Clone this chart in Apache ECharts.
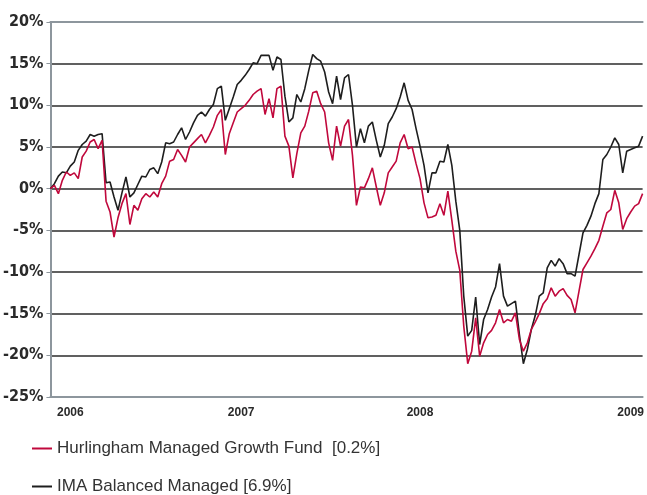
<!DOCTYPE html>
<html>
<head>
<meta charset="utf-8">
<script src="https://cdn.jsdelivr.net/npm/echarts@6/dist/echarts.min.js"></script>
<style>
html,body{margin:0;padding:0;background:#fff;}
#chart{width:647px;height:495px;}
</style>
</head>
<body>
<div id="chart"></div>
<script>
// fund performance, weekly-ish readings, % since start
var imaBalanced = [
    0, 0.6, 1.5, 2.0, 1.9, 2.7, 3.2, 4.6, 5.3, 5.7,
    6.5, 6.3, 6.5, 6.6, 0.7, 0.8, -1.0, -2.6, -0.5, 1.4,
    -1.0, -0.5, 0.5, 1.5, 1.4, 2.3, 2.5, 1.8, 3.2, 5.5,
    5.4, 5.6, 6.5, 7.3, 5.9, 6.8, 7.9, 8.8, 9.2, 8.7,
    9.5, 10.1, 12.0, 12.3, 8.2, 9.6, 11.0, 12.5, 13.0, 13.6,
    14.3, 15.1, 15.0, 16.0, 16.0, 16.0, 14.2, 15.8, 15.5, 11.1,
    8.0, 8.5, 11.3, 10.4, 12.0, 14.2, 16.1, 15.6, 15.3, 14.0,
    11.6, 10.2, 13.5, 10.7, 13.3, 13.7, 10.0, 5.0, 7.2, 5.5,
    7.5, 8.0, 5.8, 3.8, 5.2, 7.8, 8.6, 9.6, 11.0, 12.7,
    10.6, 9.5, 7.2, 5.1, 2.8, -0.5, 1.9, 1.9, 3.3, 3.2,
    5.3, 2.8, -1.5, -5.0, -12.9, -17.7, -17.0, -13.0, -18.7, -15.7,
    -14.5, -13.0, -11.8, -9.0, -12.9, -14.1, -13.8, -13.5, -17.5, -21.0,
    -19.3, -16.9, -15.2, -12.9, -12.5, -9.5, -8.6, -9.3, -8.4, -9.0,
    -10.2, -10.2, -10.5, -7.9, -5.3, -4.4, -3.3, -1.8, -0.6, 3.5,
    4.1, 5.0, 6.1, 5.3, 1.9, 4.5, 4.7, 4.9, 5.1, 6.3
];
var hurlingham = [
    0, 0.4, -0.6, 1.0, 2.0, 1.6, 1.9, 1.2, 3.8, 4.5,
    5.6, 5.9, 4.8, 5.8, -1.5, -2.8, -5.8, -3.5, -1.8, -0.6,
    -4.3, -2.0, -2.6, -1.2, -0.6, -1.0, -0.4, -1.0, 0.6, 1.5,
    3.3, 3.5, 4.7, 4.0, 3.2, 5.0, 5.5, 6.0, 6.5, 5.5,
    6.4, 7.4, 8.8, 9.5, 4.1, 6.6, 7.9, 9.2, 9.6, 10.0,
    10.6, 11.3, 11.7, 12.0, 8.9, 10.8, 8.5, 12.0, 12.3, 6.3,
    5.1, 1.3, 4.2, 6.7, 7.5, 9.3, 11.5, 11.7, 10.2, 9.2,
    5.5, 3.4, 7.5, 5.1, 7.5, 8.3, 4.0, -2.0, 0.2, 0.1,
    1.2, 2.5, 0.2, -2.0, -0.5, 1.9, 2.6, 3.3, 5.5, 6.5,
    4.8, 5.0, 3.0, 1.2, -1.7, -3.5, -3.4, -3.2, -1.8, -3.2,
    -0.3, -3.8, -7.5, -9.8, -16.5, -21.0, -19.5, -15.5, -20.1, -18.5,
    -17.5, -17.0, -16.1, -14.5, -16.1, -15.7, -15.9, -14.9, -18.1, -19.5,
    -18.5, -16.9, -16.0, -15.0, -13.8, -13.2, -11.9, -12.9, -12.3, -12.0,
    -12.8, -13.3, -14.9, -12.3, -9.7, -8.9, -8.1, -7.2, -6.2, -4.5,
    -2.9, -2.5, -0.2, -1.7, -4.9, -3.6, -2.8, -2.1, -1.8, -0.6
];
var yearLabels = ['2006', '2007', '2008', '2009'];
var yearIndex = [5, 48, 93, 146];
var seriesNames = ['Hurlingham Managed Growth Fund  [0.2%]', 'IMA Balanced Managed [6.9%]'];

var periods = [];
for (var i = 0; i < imaBalanced.length; i++) {
    periods.push(i);
}

var chart = echarts.init(document.getElementById('chart'));

function legendRow(name, top) {
    return {
        orient: 'vertical',
        left: 32,
        top: top,
        padding: 0,
        itemWidth: 20,
        itemHeight: 2,
        icon: 'rect',
        data: [name],
        textStyle: {
            fontFamily: 'Liberation Sans',
            fontSize: 17,
            color: '#333'
        }
    };
}

var option = {
    backgroundColor: '#fff',
    animation: false,
    grid: {left: 49, right: 2, top: 22, bottom: 98},
    legend: [legendRow(seriesNames[0], 440), legendRow(seriesNames[1], 478)],
    xAxis: [{
        type: 'category',
        data: periods,
        boundaryGap: false,
        axisLine: {onZero: false, lineStyle: {color: '#8d969d', width: 2}},
        axisTick: {show: false},
        splitLine: {show: false},
        axisLabel: {
            interval: 0,
            margin: 10,
            fontFamily: 'Liberation Sans',
            fontWeight: 'bold',
            fontSize: 12,
            color: '#2a2a2a',
            formatter: function (v, idx) {
                var p = yearIndex.indexOf(idx);
                return p >= 0 ? yearLabels[p] : '';
            }
        }
    }, {
        // top border line of the plot
        type: 'category',
        position: 'top',
        data: periods,
        boundaryGap: false,
        axisLine: {onZero: false, lineStyle: {color: '#8d969d', width: 2}},
        axisTick: {show: false},
        axisLabel: {show: false},
        splitLine: {show: false}
    }],
    yAxis: {
        type: 'value',
        min: -25,
        max: 20,
        interval: 5,
        axisLine: {show: true, lineStyle: {color: '#8d969d', width: 2}},
        axisTick: {show: true, length: 4, lineStyle: {color: '#8d969d'}},
        splitLine: {lineStyle: {color: '#2b2b2b', width: 1.5}},
        axisLabel: {
            margin: 7,
            fontFamily: 'Liberation Sans Narrow, DejaVu Sans Condensed, sans-serif',
            fontWeight: 'bold',
            fontSize: 16,
            color: '#2a2a2a',
            formatter: '{value}%'
        }
    },
    series: [
        {
            name: seriesNames[1],
            type: 'line',
            data: imaBalanced,
            showSymbol: false,
            symbol: 'none',
            itemStyle: {color: '#1e1e1e'},
            lineStyle: {color: '#1e1e1e', width: 1.6}
        },
        {
            name: seriesNames[0],
            type: 'line',
            data: hurlingham,
            showSymbol: false,
            symbol: 'none',
            itemStyle: {color: '#c0083c'},
            lineStyle: {color: '#c0083c', width: 1.6}
        }
    ]
};
chart.setOption(option);
</script>
</body>
</html>
